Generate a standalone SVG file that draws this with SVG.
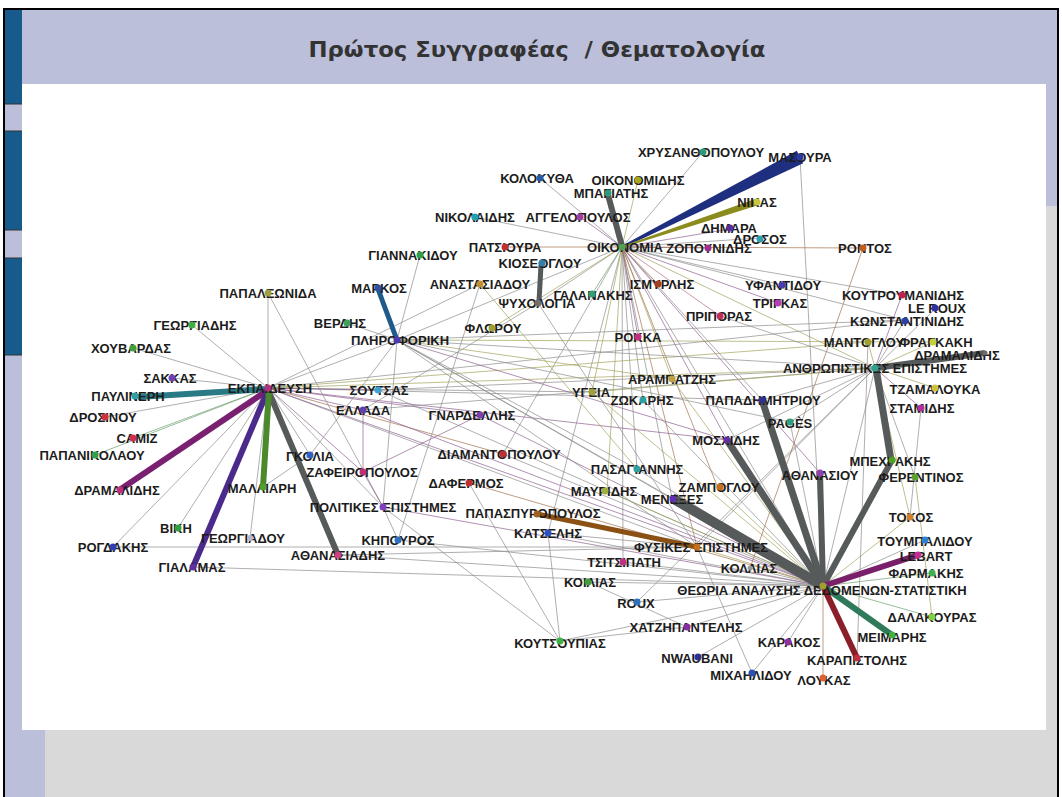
<svg xmlns="http://www.w3.org/2000/svg" width="1062" height="797" viewBox="0 0 1062 797">
<style>
.t{stroke-width:0.7;fill:none}
.g{stroke:#8c8c8c}.o{stroke:#a4a45c}.p{stroke:#8e6090}.b{stroke:#a4714c}.gr{stroke:#6f9f6f}.r{stroke:#b07080}
.k{stroke-linecap:butt;fill:none}
.lb{font-family:"Liberation Sans",Arial,sans-serif;font-weight:bold;font-size:13px;fill:#1c1c1c;text-anchor:middle}
.ttl{font-family:"DejaVu Sans","Liberation Sans",sans-serif;font-weight:bold;font-size:21px;fill:#333333;text-anchor:middle}
</style>
<rect x="0" y="0" width="1062" height="797" fill="#ffffff"/>
<rect x="4" y="9" width="1054" height="792" fill="#bbbfd9" stroke="#000000" stroke-width="2"/>
<rect x="45" y="730" width="1012" height="67" fill="#d9d9d9"/>
<rect x="1046" y="206" width="11" height="524" fill="#d9d9d9"/>
<rect x="5" y="10" width="17" height="94" fill="#165b8c"/>
<rect x="5" y="131" width="17" height="99" fill="#165b8c"/>
<rect x="5" y="258" width="17" height="97" fill="#165b8c"/>
<g stroke="#333" stroke-width="1">
<line x1="5" y1="104" x2="22" y2="104"/><line x1="5" y1="131" x2="22" y2="131"/>
<line x1="5" y1="230" x2="22" y2="230"/><line x1="5" y1="258" x2="22" y2="258"/>
<line x1="5" y1="355" x2="22" y2="355"/>
</g>
<rect x="22" y="84" width="1024" height="646" fill="#ffffff"/>
<text class="ttl" x="537" y="57" textLength="457" lengthAdjust="spacingAndGlyphs" xml:space="preserve">Πρώτος Συγγραφέας  / Θεματολογία</text>

<g id="connectors">
<g class="t g">
<line x1="622" y1="247" x2="703" y2="152"/><line x1="622" y1="247" x2="540" y2="178"/><line x1="622" y1="247" x2="475" y2="217"/>
<line x1="622" y1="247" x2="760" y2="238"/><line x1="622" y1="247" x2="782" y2="285"/><line x1="622" y1="247" x2="538" y2="303"/>
<line x1="622" y1="247" x2="902" y2="295"/><line x1="622" y1="247" x2="905" y2="320"/><line x1="622" y1="247" x2="762" y2="400"/>
<line x1="622" y1="247" x2="672" y2="498"/><line x1="622" y1="247" x2="643" y2="400"/><line x1="622" y1="247" x2="637" y2="469"/>
<line x1="622" y1="247" x2="823" y2="586"/><line x1="622" y1="247" x2="548" y2="533"/><line x1="622" y1="247" x2="397" y2="340"/>
<line x1="622" y1="247" x2="503" y2="454"/><line x1="622" y1="247" x2="623" y2="562"/>
</g>
<g class="t o">
<line x1="622" y1="247" x2="638" y2="180"/><line x1="622" y1="247" x2="492" y2="328"/><line x1="622" y1="247" x2="875" y2="368"/>
<line x1="622" y1="247" x2="592" y2="392"/><line x1="622" y1="247" x2="672" y2="379"/><line x1="622" y1="247" x2="607" y2="491"/>
</g>
<g class="t p">
<line x1="622" y1="247" x2="580" y2="217"/><line x1="622" y1="247" x2="730" y2="229"/><line x1="622" y1="247" x2="708" y2="248"/>
<line x1="622" y1="247" x2="778" y2="303"/><line x1="622" y1="247" x2="638" y2="337"/><line x1="622" y1="247" x2="727" y2="440"/>
<line x1="622" y1="247" x2="820" y2="473"/>
</g>
<g class="t b">
<line x1="622" y1="247" x2="505" y2="247"/><line x1="622" y1="247" x2="863" y2="248"/><line x1="622" y1="247" x2="658" y2="284"/>
<line x1="622" y1="247" x2="718" y2="488"/><line x1="622" y1="247" x2="697" y2="547"/>
</g>
<line class="t gr" x1="622" y1="247" x2="592" y2="294"/>
<line class="t r" x1="622" y1="247" x2="720" y2="316"/>
<g class="t g">
<line x1="268" y1="388" x2="268" y2="293"/><line x1="268" y1="388" x2="192" y2="325"/><line x1="268" y1="388" x2="133" y2="348"/>
<line x1="268" y1="388" x2="172" y2="378"/><line x1="268" y1="388" x2="105" y2="417"/><line x1="268" y1="388" x2="178" y2="528"/>
<line x1="268" y1="388" x2="113" y2="547"/><line x1="268" y1="388" x2="250" y2="538"/><line x1="268" y1="388" x2="310" y2="455"/>
<line x1="268" y1="388" x2="397" y2="340"/><line x1="268" y1="388" x2="762" y2="400"/><line x1="268" y1="388" x2="592" y2="392"/>
<line x1="268" y1="388" x2="905" y2="320"/><line x1="268" y1="388" x2="697" y2="547"/><line x1="268" y1="388" x2="383" y2="507"/>
<line x1="268" y1="388" x2="480" y2="284"/>
</g>
<g class="t gr">
<line x1="268" y1="388" x2="133" y2="438"/><line x1="268" y1="388" x2="95" y2="455"/>
</g>
<g class="t p">
<line x1="268" y1="388" x2="378" y2="390"/><line x1="268" y1="388" x2="363" y2="410"/><line x1="268" y1="388" x2="480" y2="415"/>
<line x1="268" y1="388" x2="823" y2="586"/><line x1="268" y1="388" x2="727" y2="440"/><line x1="268" y1="388" x2="363" y2="472"/>
</g>
<g class="t o">
<line x1="268" y1="388" x2="875" y2="368"/><line x1="268" y1="388" x2="868" y2="342"/>
</g>
<line class="t b" x1="268" y1="388" x2="503" y2="454"/>
<g class="t g">
<line x1="397" y1="340" x2="420" y2="255"/><line x1="397" y1="340" x2="347" y2="323"/><line x1="397" y1="340" x2="875" y2="368"/>
<line x1="397" y1="340" x2="905" y2="320"/><line x1="397" y1="340" x2="697" y2="547"/><line x1="397" y1="340" x2="823" y2="586"/>
<line x1="397" y1="340" x2="672" y2="498"/><line x1="397" y1="340" x2="637" y2="469"/><line x1="397" y1="340" x2="790" y2="422"/>
<line x1="397" y1="340" x2="383" y2="507"/>
</g>
<g class="t o">
<line x1="397" y1="340" x2="933" y2="342"/><line x1="397" y1="340" x2="672" y2="379"/>
</g>
<line class="t p" x1="397" y1="340" x2="727" y2="440"/>
<g class="t g">
<line x1="823" y1="586" x2="800" y2="157"/><line x1="823" y1="586" x2="193" y2="567"/><line x1="823" y1="586" x2="338" y2="555"/>
<line x1="823" y1="586" x2="588" y2="582"/><line x1="823" y1="586" x2="637" y2="602"/><line x1="823" y1="586" x2="687" y2="627"/>
<line x1="823" y1="586" x2="560" y2="641"/><line x1="823" y1="586" x2="698" y2="657"/><line x1="823" y1="586" x2="752" y2="673"/>
<line x1="823" y1="586" x2="788" y2="642"/><line x1="823" y1="586" x2="925" y2="540"/><line x1="823" y1="586" x2="790" y2="422"/>
<line x1="823" y1="586" x2="750" y2="568"/><line x1="823" y1="586" x2="623" y2="562"/><line x1="823" y1="586" x2="637" y2="469"/>
<line x1="823" y1="586" x2="643" y2="400"/><line x1="823" y1="586" x2="503" y2="454"/><line x1="823" y1="586" x2="378" y2="390"/>
<line x1="823" y1="586" x2="398" y2="540"/><line x1="823" y1="586" x2="875" y2="368"/><line x1="823" y1="586" x2="548" y2="533"/>
</g>
<g class="t b">
<line x1="823" y1="586" x2="823" y2="678"/><line x1="823" y1="586" x2="469" y2="483"/>
</g>
<g class="t gr">
<line x1="823" y1="586" x2="932" y2="573"/><line x1="823" y1="586" x2="932" y2="617"/>
</g>
<g class="t o">
<line x1="823" y1="586" x2="910" y2="517"/><line x1="823" y1="586" x2="697" y2="547"/><line x1="823" y1="586" x2="718" y2="488"/>
<line x1="823" y1="586" x2="607" y2="491"/><line x1="823" y1="586" x2="592" y2="392"/><line x1="823" y1="586" x2="672" y2="379"/>
</g>
<g class="t p">
<line x1="823" y1="586" x2="480" y2="415"/><line x1="823" y1="586" x2="363" y2="410"/><line x1="823" y1="586" x2="383" y2="507"/>
</g>
<g class="t g">
<line x1="875" y1="368" x2="935" y2="309"/><line x1="875" y1="368" x2="905" y2="320"/><line x1="875" y1="368" x2="915" y2="477"/>
<line x1="875" y1="368" x2="363" y2="410"/><line x1="875" y1="368" x2="378" y2="390"/><line x1="875" y1="368" x2="762" y2="400"/>
<line x1="875" y1="368" x2="790" y2="422"/><line x1="875" y1="368" x2="727" y2="440"/><line x1="875" y1="368" x2="697" y2="547"/>
<line x1="875" y1="368" x2="637" y2="602"/><line x1="875" y1="368" x2="720" y2="316"/>
</g>
<g class="t p">
<line x1="875" y1="368" x2="902" y2="295"/><line x1="875" y1="368" x2="921" y2="408"/>
</g>
<g class="t o">
<line x1="875" y1="368" x2="868" y2="342"/><line x1="875" y1="368" x2="933" y2="342"/><line x1="875" y1="368" x2="935" y2="388"/>
<line x1="875" y1="368" x2="910" y2="517"/><line x1="875" y1="368" x2="592" y2="392"/>
</g>
<line class="t b" x1="863" y1="248" x2="750" y2="568"/>
<line class="t o" x1="480" y1="284" x2="637" y2="469"/>
<line class="t o" x1="915" y1="477" x2="932" y2="617"/>
<g class="t g">
<line x1="480" y1="284" x2="398" y2="540"/><line x1="538" y1="303" x2="363" y2="410"/><line x1="538" y1="303" x2="697" y2="547"/>
<line x1="268" y1="293" x2="383" y2="507"/><line x1="310" y1="455" x2="263" y2="487"/><line x1="383" y1="507" x2="398" y2="540"/>
<line x1="560" y1="641" x2="383" y2="507"/><line x1="560" y1="641" x2="548" y2="533"/><line x1="560" y1="641" x2="469" y2="483"/>
<line x1="560" y1="641" x2="687" y2="627"/><line x1="588" y1="582" x2="687" y2="627"/><line x1="113" y1="547" x2="697" y2="547"/>
<line x1="338" y1="555" x2="697" y2="547"/><line x1="548" y1="533" x2="697" y2="547"/><line x1="752" y1="673" x2="697" y2="547"/>
<line x1="868" y1="342" x2="857" y2="658"/><line x1="921" y1="408" x2="910" y2="517"/><line x1="310" y1="455" x2="397" y2="340"/>
</g>
<g class="t p">
<line x1="363" y1="410" x2="363" y2="472"/><line x1="363" y1="472" x2="383" y2="507"/><line x1="363" y1="472" x2="480" y2="415"/>
</g>
<polygon points="621.5,246.1 622.5,247.9 803.2,163.2 796.8,150.8" fill="#1f2f80"/>
<polygon points="621.7,246.2 622.3,247.8 758.1,205.3 755.9,198.7" fill="#8c8c1e"/>
<g class="k" stroke="#565a5a">
<line x1="608" y1="195" x2="622" y2="246" stroke-width="6"/>
<line x1="541" y1="265" x2="539" y2="302" stroke-width="5"/>
<line x1="268" y1="390" x2="338" y2="555" stroke-width="6"/>
<line x1="823" y1="586" x2="672" y2="498" stroke-width="10"/>
<line x1="823" y1="586" x2="727" y2="440" stroke-width="7"/>
<line x1="823" y1="586" x2="762" y2="400" stroke-width="7"/>
<line x1="823" y1="586" x2="820" y2="473" stroke-width="6"/>
<line x1="823" y1="586" x2="892" y2="460" stroke-width="6"/>
<line x1="876" y1="368" x2="891" y2="460" stroke-width="7"/>
<line x1="876" y1="368" x2="985" y2="353" stroke-width="6"/>
</g>
<line class="k" x1="378" y1="289" x2="397" y2="340" stroke="#1f5a8a" stroke-width="5"/>
<line class="k" x1="268" y1="389" x2="138" y2="397" stroke="#2a7a85" stroke-width="6"/>
<line class="k" x1="268" y1="390" x2="118" y2="491" stroke="#7a2070" stroke-width="6"/>
<line class="k" x1="268" y1="390" x2="193" y2="567" stroke="#4a2a8a" stroke-width="6"/>
<line class="k" x1="269" y1="390" x2="263" y2="487" stroke="#4a8a2a" stroke-width="6"/>
<line class="k" x1="823" y1="586" x2="918" y2="555" stroke="#7a1f6a" stroke-width="6"/>
<line class="k" x1="823" y1="586" x2="892" y2="635" stroke="#2e7a5a" stroke-width="6"/>
<line class="k" x1="823" y1="586" x2="857" y2="658" stroke="#8a1f2a" stroke-width="6"/>
<line class="k" x1="537" y1="514" x2="697" y2="547" stroke="#8a5014" stroke-width="5"/>
</g>

<g id="n01"><text class="lb" x="701" y="156.5">ΧΡΥΣΑΝΘΟΠΟΥΛΟΥ</text><circle cx="703" cy="152" r="3.5" fill="#2a9a7a"/></g>
<g id="n02"><text class="lb" x="800" y="161.5">ΜΑΣΟΥΡΑ</text><circle cx="800" cy="157" r="3.5" fill="#2a3aa0"/></g>
<g id="n03"><text class="lb" x="537" y="182.5">ΚΟΛΟΚΥΘΑ</text><circle cx="540" cy="178" r="3.5" fill="#2a5aa0"/></g>
<g id="n04"><text class="lb" x="638" y="184.5">ΟΙΚΟΝΟΜΙΔΗΣ</text><circle cx="638" cy="180" r="3.5" fill="#a8a820"/></g>
<g id="n05"><text class="lb" x="611" y="197.5">ΜΠΑΓΙΑΤΗΣ</text><circle cx="608" cy="193" r="3.5" fill="#2a9a80"/></g>
<g id="n06"><text class="lb" x="757" y="206.5">ΝΙΚΑΣ</text><circle cx="757" cy="202" r="3.5" fill="#c8c840"/></g>
<g id="n07"><text class="lb" x="475" y="221.5">ΝΙΚΟΛΑΙΔΗΣ</text><circle cx="475" cy="217" r="3.5" fill="#20a0b0"/></g>
<g id="n08"><text class="lb" x="578" y="221.5">ΑΓΓΕΛΟΠΟΥΛΟΣ</text><circle cx="580" cy="217" r="3.5" fill="#a040a0"/></g>
<g id="n09"><text class="lb" x="729" y="232.5">ΔΗΜΑΡΑ</text><circle cx="730" cy="228" r="3.5" fill="#5a30a0"/></g>
<g id="n10"><text class="lb" x="760" y="243.5">ΔΡΟΣΟΣ</text><circle cx="760" cy="239" r="3.5" fill="#30a0b0"/></g>
<g id="n11"><text class="lb" x="505" y="251.5">ΠΑΤΣΙΟΥΡΑ</text><circle cx="505" cy="247" r="3.5" fill="#c03030"/></g>
<g id="n12"><text class="lb" x="625" y="251.5">ΟΙΚΟΝΟΜΙΑ</text><circle cx="622" cy="247" r="3.5" fill="#50a050"/></g>
<g id="n13"><text class="lb" x="709" y="252.5">ΖΟΠΟΥΝΙΔΗΣ</text><circle cx="708" cy="248" r="3.5" fill="#a03090"/></g>
<g id="n14"><text class="lb" x="865" y="252.5">ΡΟΝΤΟΣ</text><circle cx="863" cy="248" r="3.5" fill="#c06020"/></g>
<g id="n15"><text class="lb" x="413" y="259.5">ΓΙΑΝΝΑΚΙΔΟΥ</text><circle cx="420" cy="255" r="3.5" fill="#30a040"/></g>
<g id="n16"><text class="lb" x="540" y="267.5">ΚΙΟΣΕΟΓΛΟΥ</text><circle cx="542" cy="263" r="3.5" fill="#3080b0"/></g>
<g id="n17"><text class="lb" x="480" y="288.5">ΑΝΑΣΤΑΣΙΑΔΟΥ</text><circle cx="480" cy="284" r="3.5" fill="#c09030"/></g>
<g id="n18"><text class="lb" x="662" y="288.5">ΙΣΜΥΡΛΗΣ</text><circle cx="658" cy="284" r="3.5" fill="#a04020"/></g>
<g id="n19"><text class="lb" x="783" y="289.5">ΥΦΑΝΤΙΔΟΥ</text><circle cx="782" cy="285" r="3.5" fill="#4a3ab0"/></g>
<g id="n20"><text class="lb" x="593" y="299.5">ΓΑΛΑΝΑΚΗΣ</text><circle cx="592" cy="294" r="3.5" fill="#30a070"/></g>
<g id="n21"><text class="lb" x="537" y="307.5">ΨΥΧΟΛΟΓΙΑ</text><circle cx="538" cy="303" r="3.5" fill="#707070"/></g>
<g id="n22"><text class="lb" x="780" y="307.5">ΤΡΙΓΚΑΣ</text><circle cx="778" cy="303" r="3.5" fill="#b040c0"/></g>
<g id="n23"><text class="lb" x="719" y="320.5">ΠΡΙΠΟΡΑΣ</text><circle cx="720" cy="316" r="3.5" fill="#c03060"/></g>
<g id="n24"><text class="lb" x="493" y="332.5">ΦΛΩΡΟΥ</text><circle cx="492" cy="328" r="3.5" fill="#a0a030"/></g>
<g id="n25"><text class="lb" x="638" y="341.5">ΡΟΚΚΑ</text><circle cx="638" cy="337" r="3.5" fill="#c03080"/></g>
<g id="n26"><text class="lb" x="400" y="344.5">ΠΛΗΡΟΦΟΡΙΚΗ</text><circle cx="397" cy="340" r="3.5" fill="#4a3ab0"/></g>
<g id="n27"><text class="lb" x="379" y="292.5">ΜΑΡΚΟΣ</text><circle cx="378" cy="288" r="3.5" fill="#3050a0"/></g>
<g id="n28"><text class="lb" x="340" y="327.5">ΒΕΡΔΗΣ</text><circle cx="347" cy="323" r="3.5" fill="#40a060"/></g>
<g id="n29"><text class="lb" x="268" y="297.5">ΠΑΠΑΛΕΩΝΙΔΑ</text><circle cx="268" cy="293" r="3.5" fill="#a0a040"/></g>
<g id="n30"><text class="lb" x="195" y="329.5">ΓΕΩΡΓΙΑΔΗΣ</text><circle cx="192" cy="325" r="3.5" fill="#40b040"/></g>
<g id="n31"><text class="lb" x="131" y="352.5">ΧΟΥΒΑΡΔΑΣ</text><circle cx="133" cy="348" r="3.5" fill="#40a040"/></g>
<g id="n32"><text class="lb" x="170" y="382.5">ΣΑΚΚΑΣ</text><circle cx="172" cy="378" r="3.5" fill="#7040b0"/></g>
<g id="n33"><text class="lb" x="270" y="392.5">ΕΚΠΑΙΔΕΥΣΗ</text><circle cx="268" cy="388" r="3.5" fill="#b03080"/></g>
<g id="n34"><text class="lb" x="128" y="400.5">ΠΑΥΛΙΝΕΡΗ</text><circle cx="135" cy="396" r="3.5" fill="#30a0a0"/></g>
<g id="n35"><text class="lb" x="379" y="394.5">ΣΟΥΤΣΑΣ</text><circle cx="378" cy="390" r="3.5" fill="#40a0d0"/></g>
<g id="n36"><text class="lb" x="363" y="414.5">ΕΛΛΑΔΑ</text><circle cx="363" cy="410" r="3.5" fill="#6040b0"/></g>
<g id="n37"><text class="lb" x="103" y="421.5">ΔΡΟΣΙΝΟΥ</text><circle cx="105" cy="417" r="3.5" fill="#d03040"/></g>
<g id="n38"><text class="lb" x="137" y="442.5">CAMIZ</text><circle cx="133" cy="438" r="3.5" fill="#d03050"/></g>
<g id="n39"><text class="lb" x="92" y="459.5">ΠΑΠΑΝΙΚΟΛΑΟΥ</text><circle cx="95" cy="455" r="3.5" fill="#30a050"/></g>
<g id="n40"><text class="lb" x="310" y="460.5">ΓΚΟΛΙΑ</text><circle cx="310" cy="455" r="3.5" fill="#3060c0"/></g>
<g id="n41"><text class="lb" x="362" y="476.5">ΖΑΦΕΙΡΟΠΟΥΛΟΣ</text><circle cx="363" cy="472" r="3.5" fill="#c03070"/></g>
<g id="n42"><text class="lb" x="117" y="494.5">ΔΡΑΜΑΛΙΔΗΣ</text><circle cx="120" cy="490" r="3.5" fill="#c03080"/></g>
<g id="n43"><text class="lb" x="262" y="492.5">ΜΑΛΛΙΑΡΗ</text><circle cx="263" cy="487" r="3.5" fill="#50a030"/></g>
<g id="n44"><text class="lb" x="383" y="511.5">ΠΟΛΙΤΙΚΕΣ ΕΠΙΣΤΗΜΕΣ</text><circle cx="383" cy="507" r="3.5" fill="#8040c0"/></g>
<g id="n45"><text class="lb" x="176" y="532.5">ΒΙΚΗ</text><circle cx="178" cy="528" r="3.5" fill="#30a040"/></g>
<g id="n46"><text class="lb" x="398" y="544.5">ΚΗΠΟΥΡΟΣ</text><circle cx="398" cy="540" r="3.5" fill="#3070c0"/></g>
<g id="n47"><text class="lb" x="243" y="542.5">ΓΕΩΡΓΙΑΔΟΥ</text><circle cx="250" cy="538" r="3" fill="#b8b8d0"/></g>
<g id="n48"><text class="lb" x="113" y="551.5">ΡΟΓΔΑΚΗΣ</text><circle cx="113" cy="547" r="3.5" fill="#3040b0"/></g>
<g id="n49"><text class="lb" x="338" y="559.5">ΑΘΑΝΑΣΙΑΔΗΣ</text><circle cx="338" cy="555" r="3.5" fill="#d04080"/></g>
<g id="n50"><text class="lb" x="192" y="571.5">ΓΙΑΛΑΜΑΣ</text><circle cx="193" cy="567" r="3.5" fill="#6030a0"/></g>
<g id="n51"><text class="lb" x="672" y="383.5">ΑΡΑΜΠΑΤΖΗΣ</text><circle cx="672" cy="379" r="3.5" fill="#c0a040"/></g>
<g id="n52"><text class="lb" x="591" y="396.5">ΥΓΕΙΑ</text><circle cx="592" cy="392" r="3.5" fill="#a0a040"/></g>
<g id="n53"><text class="lb" x="642" y="404.5">ΖΩΚΑΡΗΣ</text><circle cx="643" cy="400" r="3.5" fill="#30a0a0"/></g>
<g id="n54"><text class="lb" x="763" y="404.5">ΠΑΠΑΔΗΜΗΤΡΙΟΥ</text><circle cx="762" cy="400" r="3.5" fill="#303090"/></g>
<g id="n55"><text class="lb" x="472" y="419.5">ΓΝΑΡΔΕΛΛΗΣ</text><circle cx="480" cy="415" r="3.5" fill="#8040b0"/></g>
<g id="n56"><text class="lb" x="726" y="444.5">ΜΟΣΧΙΔΗΣ</text><circle cx="727" cy="440" r="3.5" fill="#6030a0"/></g>
<g id="n57"><text class="lb" x="499" y="458.5">ΔΙΑΜΑΝΤΟΠΟΥΛΟΥ</text><circle cx="503" cy="454" r="3.5" fill="#c03030"/></g>
<g id="n58"><text class="lb" x="637" y="473.5">ΠΑΣΑΓΙΑΝΝΗΣ</text><circle cx="637" cy="469" r="3.5" fill="#30a0a0"/></g>
<g id="n59"><text class="lb" x="466" y="487.5">ΔΑΦΕΡΜΟΣ</text><circle cx="469" cy="483" r="3.5" fill="#c03030"/></g>
<g id="n60"><text class="lb" x="719" y="491.5">ΖΑΜΠΟΓΛΟΥ</text><circle cx="720" cy="487" r="3.5" fill="#c07020"/></g>
<g id="n61"><text class="lb" x="604" y="495.5">ΜΑΥΡΙΔΗΣ</text><circle cx="605" cy="491" r="3.5" fill="#a0b040"/></g>
<g id="n62"><text class="lb" x="672" y="503.5">ΜΕΝΕΞΕΣ</text><circle cx="673" cy="499" r="3.5" fill="#6030b0"/></g>
<g id="n63"><text class="lb" x="533" y="517.5">ΠΑΠΑΣΠΥΡΟΠΟΥΛΟΣ</text><circle cx="537" cy="514" r="3.5" fill="#a06020"/></g>
<g id="n64"><text class="lb" x="548" y="537.5">ΚΑΤΣΕΛΗΣ</text><circle cx="548" cy="533" r="3.5" fill="#3050c0"/></g>
<g id="n65"><text class="lb" x="701" y="551.5">ΦΥΣΙΚΕΣ ΕΠΙΣΤΗΜΕΣ</text><circle cx="697" cy="547" r="3.5" fill="#c07020"/></g>
<g id="n66"><text class="lb" x="624" y="566.5">ΤΣΙΤΣΙΠΑΤΗ</text><circle cx="623" cy="562" r="3.5" fill="#c03080"/></g>
<g id="n67"><text class="lb" x="749" y="572.5">ΚΟΛΛΙΑΣ</text><circle cx="750" cy="568" r="2.5" fill="#9a9a9a"/></g>
<g id="n68"><text class="lb" x="590" y="586.5">ΚΟΙΛΙΑΣ</text><circle cx="588" cy="582" r="3.5" fill="#40a040"/></g>
<g id="n69"><text class="lb" x="822" y="594.5">ΘΕΩΡΙΑ ΑΝΑΛΥΣΗΣ ΔΕΔΟΜΕΝΩΝ-ΣΤΑΤΙΣΤΙΚΗ</text><circle cx="823" cy="586" r="3.5" fill="#a0a030"/></g>
<g id="n70"><text class="lb" x="636" y="607.5">ROUX</text><circle cx="637" cy="602" r="3.5" fill="#3070c0"/></g>
<g id="n71"><text class="lb" x="686" y="631.5">ΧΑΤΖΗΠΑΝΤΕΛΗΣ</text><circle cx="687" cy="627" r="3.5" fill="#8030a0"/></g>
<g id="n72"><text class="lb" x="560" y="647.5">ΚΟΥΤΣΟΥΠΙΑΣ</text><circle cx="560" cy="641" r="3.5" fill="#40b040"/></g>
<g id="n73"><text class="lb" x="697" y="662.5">NWAUBANI</text><circle cx="698" cy="657" r="3.5" fill="#303090"/></g>
<g id="n74"><text class="lb" x="751" y="679.5">ΜΙΧΑΗΛΙΔΟΥ</text><circle cx="752" cy="673" r="3.5" fill="#3050b0"/></g>
<g id="n75"><text class="lb" x="926" y="577.5">ΦΑΡΜΑΚΗΣ</text><circle cx="932" cy="573" r="3.5" fill="#40b050"/></g>
<g id="n76"><text class="lb" x="932" y="621.5">ΔΑΛΑΚΟΥΡΑΣ</text><circle cx="932" cy="617" r="3.5" fill="#80d040"/></g>
<g id="n77"><text class="lb" x="892" y="641.5">ΜΕΙΜΑΡΗΣ</text><circle cx="892" cy="635" r="3.5" fill="#40b040"/></g>
<g id="n78"><text class="lb" x="789" y="646.5">ΚΑΡΑΚΟΣ</text><circle cx="788" cy="642" r="3.5" fill="#9030a0"/></g>
<g id="n79"><text class="lb" x="857" y="664.5">ΚΑΡΑΠΙΣΤΟΛΗΣ</text><circle cx="857" cy="658" r="3.5" fill="#c03040"/></g>
<g id="n80"><text class="lb" x="824" y="684.5">ΛΟΥΚΑΣ</text><circle cx="823" cy="678" r="3.5" fill="#e06030"/></g>
<g id="n81"><text class="lb" x="790" y="427.5">PAGÈS</text><circle cx="790" cy="422" r="3.5" fill="#30a080"/></g>
<g id="n82"><text class="lb" x="820" y="479.5">ΑΘΑΝΑΣΙΟΥ</text><circle cx="820" cy="473" r="3.5" fill="#9040b0"/></g>
<g id="n83"><text class="lb" x="890" y="465.5">ΜΠΕΧΡΑΚΗΣ</text><circle cx="892" cy="460" r="3.5" fill="#50a020"/></g>
<g id="n84"><text class="lb" x="921" y="481.5">ΦΕΡΕΝΤΙΝΟΣ</text><circle cx="915" cy="477" r="3.5" fill="#60a030"/></g>
<g id="n85"><text class="lb" x="911" y="521.5">ΤΟΚΟΣ</text><circle cx="910" cy="517" r="3.5" fill="#d08030"/></g>
<g id="n86"><text class="lb" x="925" y="545.5">ΤΟΥΜΠΑΛΙΔΟΥ</text><circle cx="925" cy="540" r="3.5" fill="#3080d0"/></g>
<g id="n87"><text class="lb" x="926" y="560.5">LEBART</text><circle cx="918" cy="555" r="3.5" fill="#c03090"/></g>
<g id="n88"><text class="lb" x="903" y="299.5">ΚΟΥΤΡΟΥΜΑΝΙΔΗΣ</text><circle cx="902" cy="295" r="3.5" fill="#c02050"/></g>
<g id="n89"><text class="lb" x="937" y="312.5">LE ROUX</text><circle cx="935" cy="308" r="3.5" fill="#3030a0"/></g>
<g id="n90"><text class="lb" x="907" y="325.5">ΚΩΝΣΤΑΝΤΙΝΙΔΗΣ</text><circle cx="905" cy="321" r="3.5" fill="#3040a0"/></g>
<g id="n91"><text class="lb" x="864" y="346.5">ΜΑΝΤΟΓΛΟΥ</text><circle cx="868" cy="342" r="3.5" fill="#a0a030"/></g>
<g id="n92"><text class="lb" x="936" y="346.5">ΦΡΑΓΚΑΚΗ</text><circle cx="933" cy="342" r="3.5" fill="#c0d040"/></g>
<g id="n93"><text class="lb" x="957" y="359.5">ΔΡΑΜΑΛΙΔΗΣ</text><circle cx="985" cy="353" r="2.5" fill="#6a6a6a"/></g>
<g id="n94"><text class="lb" x="875" y="372.5">ΑΝΘΡΩΠΙΣΤΙΚΕΣ ΕΠΙΣΤΗΜΕΣ</text><circle cx="875" cy="368" r="3.5" fill="#30a090"/></g>
<g id="n95"><text class="lb" x="935" y="393.5">ΤΖΑΜΑΛΟΥΚΑ</text><circle cx="935" cy="388" r="3.5" fill="#d0c040"/></g>
<g id="n96"><text class="lb" x="922" y="412.5">ΣΤΑΜΙΔΗΣ</text><circle cx="921" cy="408" r="3.5" fill="#b030a0"/></g>
</svg>
